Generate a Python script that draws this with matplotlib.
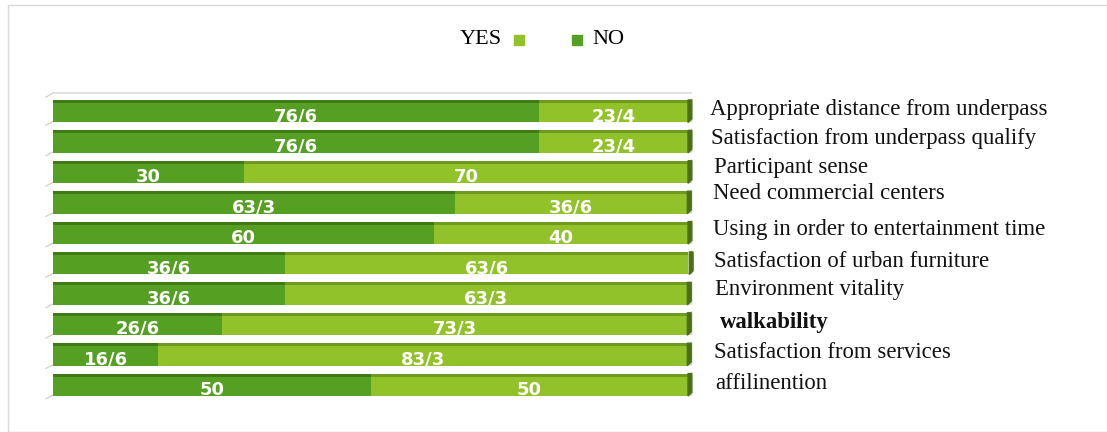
import matplotlib
matplotlib.use("Agg")
import matplotlib.pyplot as plt
from matplotlib.patches import Polygon, Rectangle
from matplotlib.transforms import blended_transform_factory
from matplotlib import font_manager

categories = [
    "Appropriate distance from underpass",
    "Satisfaction from underpass qualify",
    "Participant sense",
    "Need commercial centers",
    "Using in order to entertainment time",
    "Satisfaction of urban furniture",
    "Environment vitality",
    "walkability",
    "Satisfaction from services",
    "affilinention",
]
no_values = [76.6, 76.6, 30, 63.3, 60, 36.6, 36.6, 26.6, 16.6, 50]
yes_values = [23.4, 23.4, 70, 36.6, 40, 63.6, 63.3, 73.3, 83.3, 50]
no_labels = ["76/6", "76/6", "30", "63/3", "60", "36/6", "36/6", "26/6", "16/6", "50"]
yes_labels = ["23/4", "23/4", "70", "36/6", "40", "63/6", "63/3", "73/3", "83/3", "50"]

NO_C = "#559f22"
YES_C = "#92c22a"
NO_TOP = "#3f7a17"
YES_TOP = "#6f9a1f"
SIDE = "#4d6f1a"

names = {f.name for f in font_manager.fontManager.ttflist}
if "Liberation Sans Narrow" in names:
    in_family, in_size = "Liberation Sans Narrow", 15
else:
    in_family, in_size = "DejaVu Sans", 13

fig = plt.figure(figsize=(11.07, 4.32), dpi=100)
fig.patch.set_facecolor("white")
fig.add_artist(Rectangle((8 / 1107, 0.0), 1.2, 1 - 5 / 432, transform=fig.transFigure,
                         fill=False, edgecolor="#d9d9d9", linewidth=1))

ax = fig.add_axes([53 / 1107, 1 - 400 / 432, 635 / 1107, 304 / 432])
ax.set_xlim(0, 100)
ax.set_ylim(9.5, -0.5)
ax.axis("off")

y = list(range(len(categories)))
h = 0.74
for i in y:
    ax.add_patch(Polygon([[-1.2, i + h / 2 + 0.1], [0, i + h / 2 - 0.03], [100.6, i + h / 2 - 0.03],
                          [100.6, i - h / 2 - 0.05]], closed=False, fill=False,
                         edgecolor="#d0d0d0", linewidth=0.9, clip_on=False, zorder=0))
ax.add_patch(Polygon([[-1.2, -0.5 + 0.05], [0, -0.6], [100.6, -0.6]], closed=False, fill=False,
                     edgecolor="#d0d0d0", linewidth=0.9, clip_on=False, zorder=0))

ax.barh(y, no_values, height=h, color=NO_C, edgecolor="none", zorder=2)
ax.barh(y, yes_values, left=no_values, height=h, color=YES_C, edgecolor="none", zorder=2)
ax.barh([i - h / 2 + 0.05 for i in y], no_values, height=0.1, color=NO_TOP, edgecolor="none", zorder=3)
ax.barh([i - h / 2 + 0.05 for i in y], yes_values, left=no_values, height=0.1, color=YES_TOP,
        edgecolor="none", zorder=3)
for i, (n, s) in enumerate(zip(no_values, yes_values)):
    tot = n + s
    ax.add_patch(Polygon([[tot, i - h / 2], [tot + 0.6, i - h / 2], [tot + 0.6, i + h / 2 - 0.12],
                          [tot, i + h / 2]], closed=True, color=SIDE, zorder=3, clip_on=False))

font_in = dict(color="white", fontsize=in_size, fontweight="bold", family=in_family,
               ha="center", va="center", zorder=5)
for i, (n, s) in enumerate(zip(no_values, yes_values)):
    ax.text(n / 2, i + 0.16, no_labels[i], **font_in)
    ax.text(n + s / 2, i + 0.16, yes_labels[i], **font_in)

label_x = [710, 711, 714, 713, 713, 714, 715, 720, 714, 715]
label_dy = [-0.05, -0.1, -0.15, -0.3, -0.12, -0.05, -0.15, -0.05, -0.05, -0.05]
tr = blended_transform_factory(fig.transFigure, ax.transData)
for i, cat in enumerate(categories):
    ax.text(label_x[i] / 1107, i + label_dy[i], cat, transform=tr, fontsize=16.4,
            family="Liberation Serif", fontweight="bold" if cat == "walkability" else "normal",
            ha="left", va="center", color="#111111", clip_on=False)

fig.text(460 / 1107, 1 - 40 / 432, "YES", fontsize=16, family="Liberation Serif", va="center", ha="left")
fig.add_artist(Rectangle((514 / 1107, 1 - 45 / 432), 10 / 1107, 10 / 432, transform=fig.transFigure,
                         color=YES_C))
fig.add_artist(Rectangle((572 / 1107, 1 - 45 / 432), 10 / 1107, 10 / 432, transform=fig.transFigure,
                         color=NO_C))
fig.text(592 / 1107, 1 - 40 / 432, "NO", fontsize=16, family="Liberation Serif", va="center", ha="left")

fig.savefig("out.png", dpi=100, facecolor="white")
